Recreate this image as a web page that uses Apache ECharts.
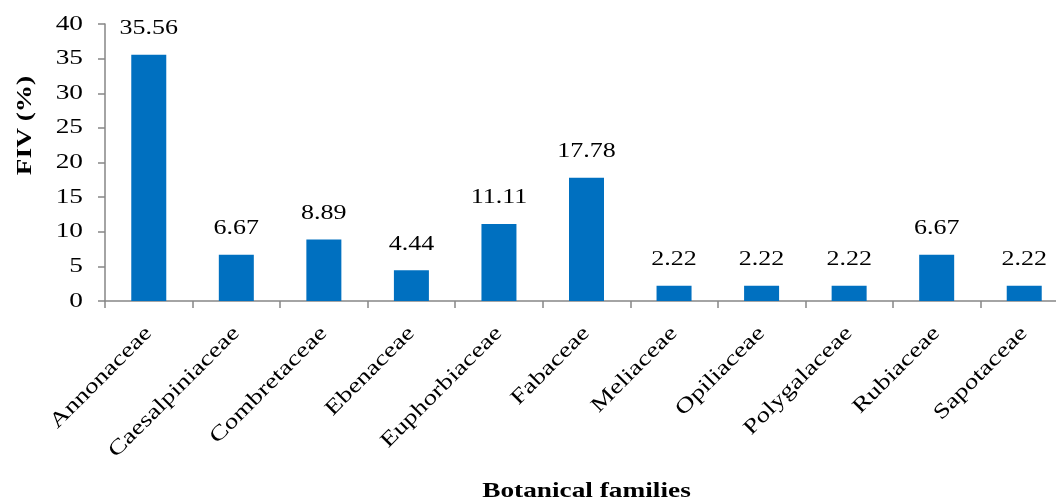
<!DOCTYPE html>
<html>
<head>
<meta charset="utf-8">
<script src="https://cdn.jsdelivr.net/npm/echarts@6/dist/echarts.min.js"></script>
<style>
  html, body { margin: 0; padding: 0; background: #fff; }
  #chart { width: 1056px; height: 499px; }
</style>
</head>
<body>
<div id="chart"></div>
<script>
// Botanical families and their FIV share (%)
const families = ['Annonaceae', 'Caesalpiniaceae', 'Combretaceae', 'Ebenaceae', 'Euphorbiaceae',
  'Fabaceae', 'Meliaceae', 'Opiliaceae', 'Polygalaceae', 'Rubiaceae', 'Sapotaceae'];
const fivValues = [35.56, 6.67, 8.89, 4.44, 11.11, 17.78, 2.22, 2.22, 2.22, 6.67, 2.22];
const yTicks = { min: 0, max: 40, interval: 5 };

// Wide-set serif lettering: text is drawn horizontally expanded along its baseline
const TEXT_STRETCH = 1.3;
(function () {
  const proto = CanvasRenderingContext2D.prototype;
  const fill = proto.fillText;
  const measure = proto.measureText;
  proto.fillText = function (t, x, y) {
    this.save();
    this.translate(x, y);
    this.scale(TEXT_STRETCH, 1);
    fill.call(this, t, 0, 0);
    this.restore();
  };
  proto.measureText = function (t) {
    const m = measure.call(this, t);
    return {
      width: m.width * TEXT_STRETCH,
      actualBoundingBoxLeft: m.actualBoundingBoxLeft * TEXT_STRETCH,
      actualBoundingBoxRight: m.actualBoundingBoxRight * TEXT_STRETCH,
      actualBoundingBoxAscent: m.actualBoundingBoxAscent,
      actualBoundingBoxDescent: m.actualBoundingBoxDescent,
      fontBoundingBoxAscent: m.fontBoundingBoxAscent,
      fontBoundingBoxDescent: m.fontBoundingBoxDescent
    };
  };
})();

const FONT = '"Liberation Serif", "Times New Roman", serif';
const AXIS_COLOR = '#868686';

const chart = echarts.init(document.getElementById('chart'), null, { renderer: 'canvas' });
chart.setOption({
  animation: false,
  backgroundColor: '#ffffff',
  grid: { left: 105, right: -12, top: 24, bottom: 198, containLabel: false, outerBoundsMode: 'none' },
  xAxis: {
    type: 'category',
    data: families,
    name: 'Botanical families',
    nameLocation: 'middle',
    nameGap: 177,
    nameTextStyle: { fontFamily: FONT, fontSize: 21, fontWeight: 'bold', color: '#000' },
    axisLine: { show: true, lineStyle: { color: AXIS_COLOR, width: 1.5 } },
    axisTick: { show: true, alignWithLabel: false, length: 7, lineStyle: { color: AXIS_COLOR, width: 1.5 } },
    axisLabel: { rotate: 45, margin: 29, interval: 0, fontFamily: FONT, fontSize: 21, color: '#000' },
    splitLine: { show: false }
  },
  yAxis: {
    type: 'value',
    min: yTicks.min,
    max: yTicks.max,
    interval: yTicks.interval,
    name: 'FIV (%)',
    nameLocation: 'middle',
    nameGap: 66,
    nameTextStyle: { fontFamily: FONT, fontSize: 21, fontWeight: 'bold', color: '#000', padding: [0, 0, 0, 74] },
    axisLine: { show: true, lineStyle: { color: AXIS_COLOR, width: 1.5 } },
    axisTick: { show: true, inside: false, length: 7, lineStyle: { color: AXIS_COLOR, width: 1.5 } },
    axisLabel: { margin: 22, fontFamily: FONT, fontSize: 21, color: '#000' },
    splitLine: { show: false }
  },
  series: [{
    type: 'bar',
    data: fivValues,
    barWidth: 35,
    itemStyle: { color: '#0070C0' },
    label: {
      show: true,
      position: 'top',
      distance: 13,
      fontFamily: FONT,
      fontSize: 20,
      color: '#000',
      formatter: p => p.value.toFixed(2)
    }
  }]
});
</script>
</body>
</html>
